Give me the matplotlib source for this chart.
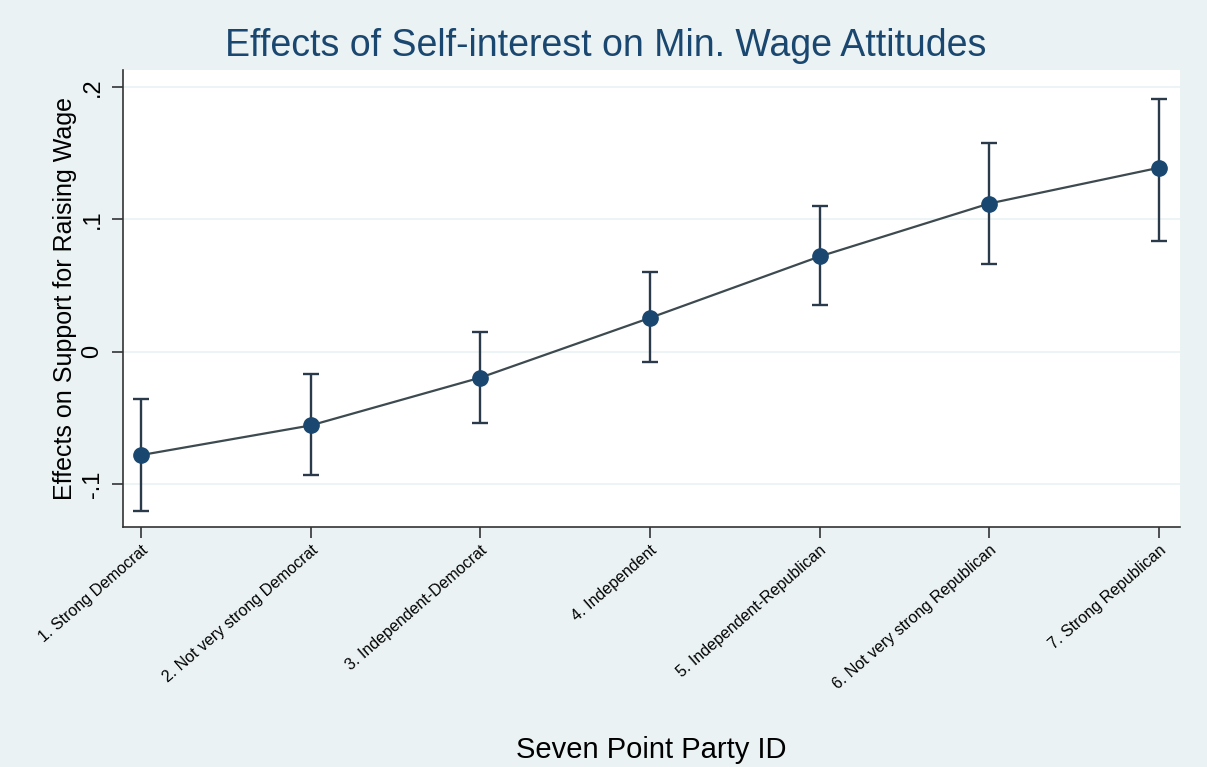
import matplotlib
matplotlib.use("Agg")
import matplotlib.pyplot as plt

# data
party_id = [1, 2, 3, 4, 5, 6, 7]
party_labels = ["1. Strong Democrat", "2. Not very strong Democrat", "3. Independent-Democrat",
                "4. Independent", "5. Independent-Republican", "6. Not very strong Republican",
                "7. Strong Republican"]
effect = [-0.078, -0.0556, -0.0195, 0.0256, 0.072, 0.112, 0.139]
ci_low = [-0.120, -0.093, -0.054, -0.0075, 0.035, 0.066, 0.084]
ci_high = [-0.036, -0.0165, 0.015, 0.060, 0.110, 0.158, 0.191]
yticks = [-0.1, 0, 0.1, 0.2]
ytick_labels = ["-.1", "0", ".1", ".2"]

BG = "#eaf2f3"
NAVY = "#1a476f"
plt.rcParams["font.family"] = ["Liberation Sans", "DejaVu Sans"]

fig = plt.figure(figsize=(12.07, 7.67), dpi=100, facecolor=BG)
ax = fig.add_axes([0.1019, 0.3129, 0.8757, 0.5958])
ax.set_facecolor("white")

for y in yticks:
    ax.axhline(y, color=BG, lw=1.2, zorder=0)

err_lo = [e - l for e, l in zip(effect, ci_low)]
err_hi = [h - e for e, h in zip(effect, ci_high)]
ax.errorbar(party_id, effect, yerr=[err_lo, err_hi], fmt="none", ecolor="#2b3a4a",
            elinewidth=1.7, capsize=6, capthick=1.7, zorder=2)
ax.plot(party_id, effect, color="#3d4a4f", lw=1.6, zorder=3)
ax.plot(party_id, effect, "o", color=NAVY, ms=11, zorder=4)

ax.set_xlim(0.894, 7.124)
ax.set_ylim(-0.1323, 0.2128)
ax.set_xticks(party_id)
ax.set_xticklabels(party_labels, rotation=41, ha="right", rotation_mode="anchor", fontsize=11.5)
ax.set_yticks(yticks)
ax.set_yticklabels(ytick_labels, rotation=90, va="center", fontsize=17)
ax.tick_params(axis="both", length=8, width=1.2, color="#333333")
ax.tick_params(axis="x", pad=3)
ax.tick_params(axis="y", pad=6)

for s in ["top", "right"]:
    ax.spines[s].set_visible(False)
for s in ["left", "bottom"]:
    ax.spines[s].set_color("#333333")
    ax.spines[s].set_linewidth(1.2)

ax.set_ylabel("Effects on Support for Raising Wage", fontsize=18, labelpad=3)
ax.set_xlabel("Seven Point Party ID", fontsize=21, labelpad=32)
fig.text(0.5015, 0.94, "Effects of Self-interest on Min. Wage Attitudes", ha="center",
         va="center", fontsize=27, color=NAVY)

fig.savefig("out.png", dpi=100, facecolor=BG)
